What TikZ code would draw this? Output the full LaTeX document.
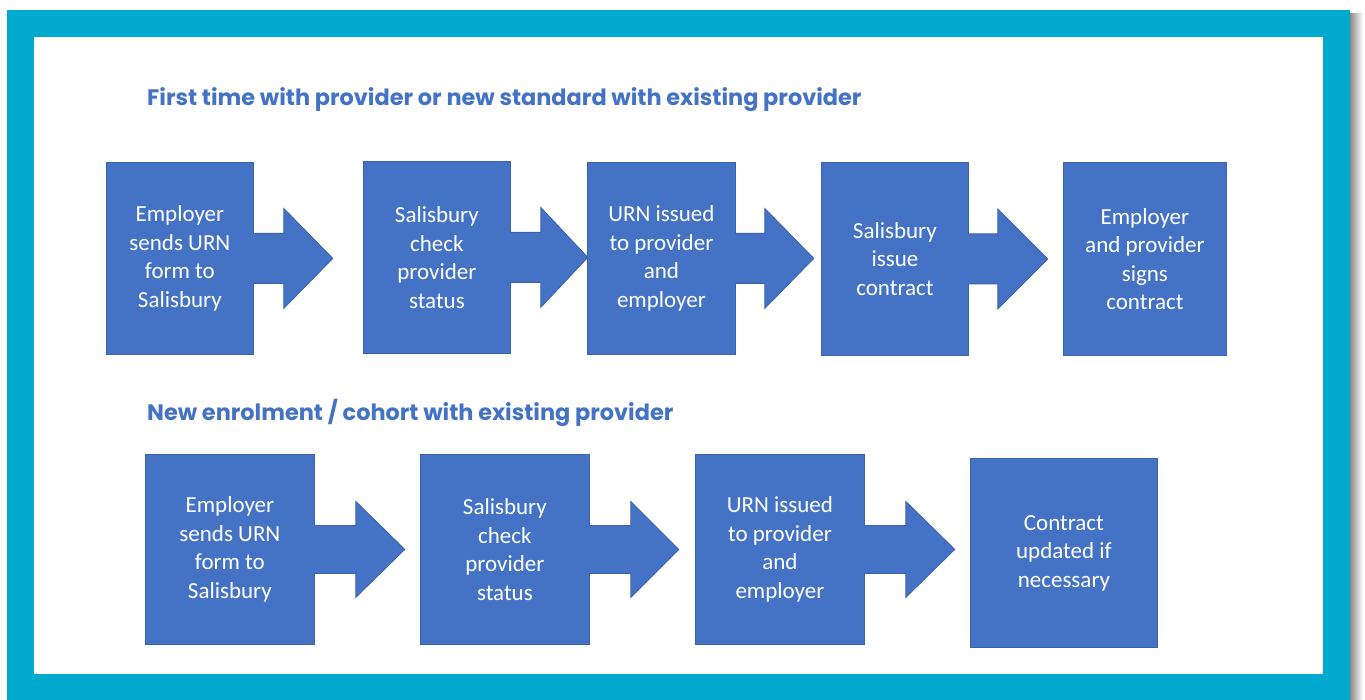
\documentclass[tikz,border=0pt]{standalone}
\usepackage{fontspec}
\setmainfont{Carlito}
\newfontfamily\titlefont{Poppins}
\usetikzlibrary{calc}
\definecolor{frame}{HTML}{00AACF}
\definecolor{boxblue}{HTML}{4472C4}
\definecolor{boxedge}{HTML}{3A62AA}
\definecolor{titleblue}{HTML}{4472C4}
\tikzset{
  stepbox/.style={draw=boxedge, line width=0.8pt, fill=boxblue, inner sep=0pt, anchor=north west,
    text=white, align=center, font=\fontsize{23}{28.5}\selectfont},
  heading/.style={anchor=base west, inner sep=0pt, text=titleblue, font=\titlefont\bfseries\fontsize{22.4}{26}\selectfont},
  arrowfill/.style={fill=boxblue, draw=none},
  arrowline/.style={draw=boxedge, line width=0.8pt, line join=miter}
}
% #1 box name, #2 stem length, #3 head length, #4 stem half height, #5 head half height
\newcommand{\flowarrow}[5]{%
  \fill[arrowfill] ($(#1.east)+(-1.5,-#4)$) -- ($(#1.east)+(#2,-#4)$) -- ($(#1.east)+(#2,-#5)$)
     -- ($(#1.east)+(#2+#3,0)$) -- ($(#1.east)+(#2,#5)$) -- ($(#1.east)+(#2,#4)$) -- ($(#1.east)+(-1.5,#4)$) -- cycle;
  \draw[arrowline] ($(#1.east)+(0,-#4)$) -- ($(#1.east)+(#2,-#4)$) -- ($(#1.east)+(#2,-#5)$)
     -- ($(#1.east)+(#2+#3,0)$) -- ($(#1.east)+(#2,#5)$) -- ($(#1.east)+(#2,#4)$) -- ($(#1.east)+(0,#4)$);
}
\begin{document}
\begin{tikzpicture}[x=1pt,y=-1pt]
\useasboundingbox (0,0) rectangle (1365,700);
\fill[white] (0,0) rectangle (1365,700);
% frame
\shade[left color=black!45, right color=white] (1350,14) rectangle (1363,700);
\fill[frame] (7,10) rectangle (1350,700);
\fill[white] (34,37) rectangle (1323,674);

% headings
\node[heading] (h1) at (147,106) {First time with provider or new standard with existing provider};
\node[heading] (h2) at (147,420) {New enrolment / cohort with existing provider};

% row 1
\node[stepbox, minimum width=147, minimum height=192] (b1) at (106,162) {Employer\\sends URN\\form to\\Salisbury};
\node[stepbox, minimum width=147, minimum height=192] (b2) at (363,161) {Salisbury\\check\\provider\\status};
\node[stepbox, minimum width=148, minimum height=192] (b3) at (587,162) {URN issued\\to provider\\and\\employer};
\node[stepbox, minimum width=147, minimum height=193] (b4) at (821,162) {Salisbury\\issue\\contract};
\node[stepbox, minimum width=163, minimum height=193] (b5) at (1063,162) {Employer\\and provider\\signs\\contract};

\flowarrow{b1}{30}{49}{25}{50}
\flowarrow{b2}{30}{47}{25}{50}
\flowarrow{b3}{29}{49}{25}{50}
\flowarrow{b4}{29}{50}{25}{50}

% row 2
\node[stepbox, minimum width=169, minimum height=190] (c1) at (145,454) {Employer\\sends URN\\form to\\Salisbury};
\node[stepbox, minimum width=169, minimum height=190] (c2) at (420,454) {Salisbury\\check\\provider\\status};
\node[stepbox, minimum width=169, minimum height=190] (c3) at (695,454) {URN issued\\to provider\\and\\employer};
\node[stepbox, minimum width=187, minimum height=189] (c4) at (970,458) {Contract\\updated if\\necessary};

\flowarrow{c1}{41}{49}{24}{48}
\flowarrow{c2}{41}{48}{24}{48}
\flowarrow{c3}{41}{49}{24}{48}
\end{tikzpicture}
\end{document}
